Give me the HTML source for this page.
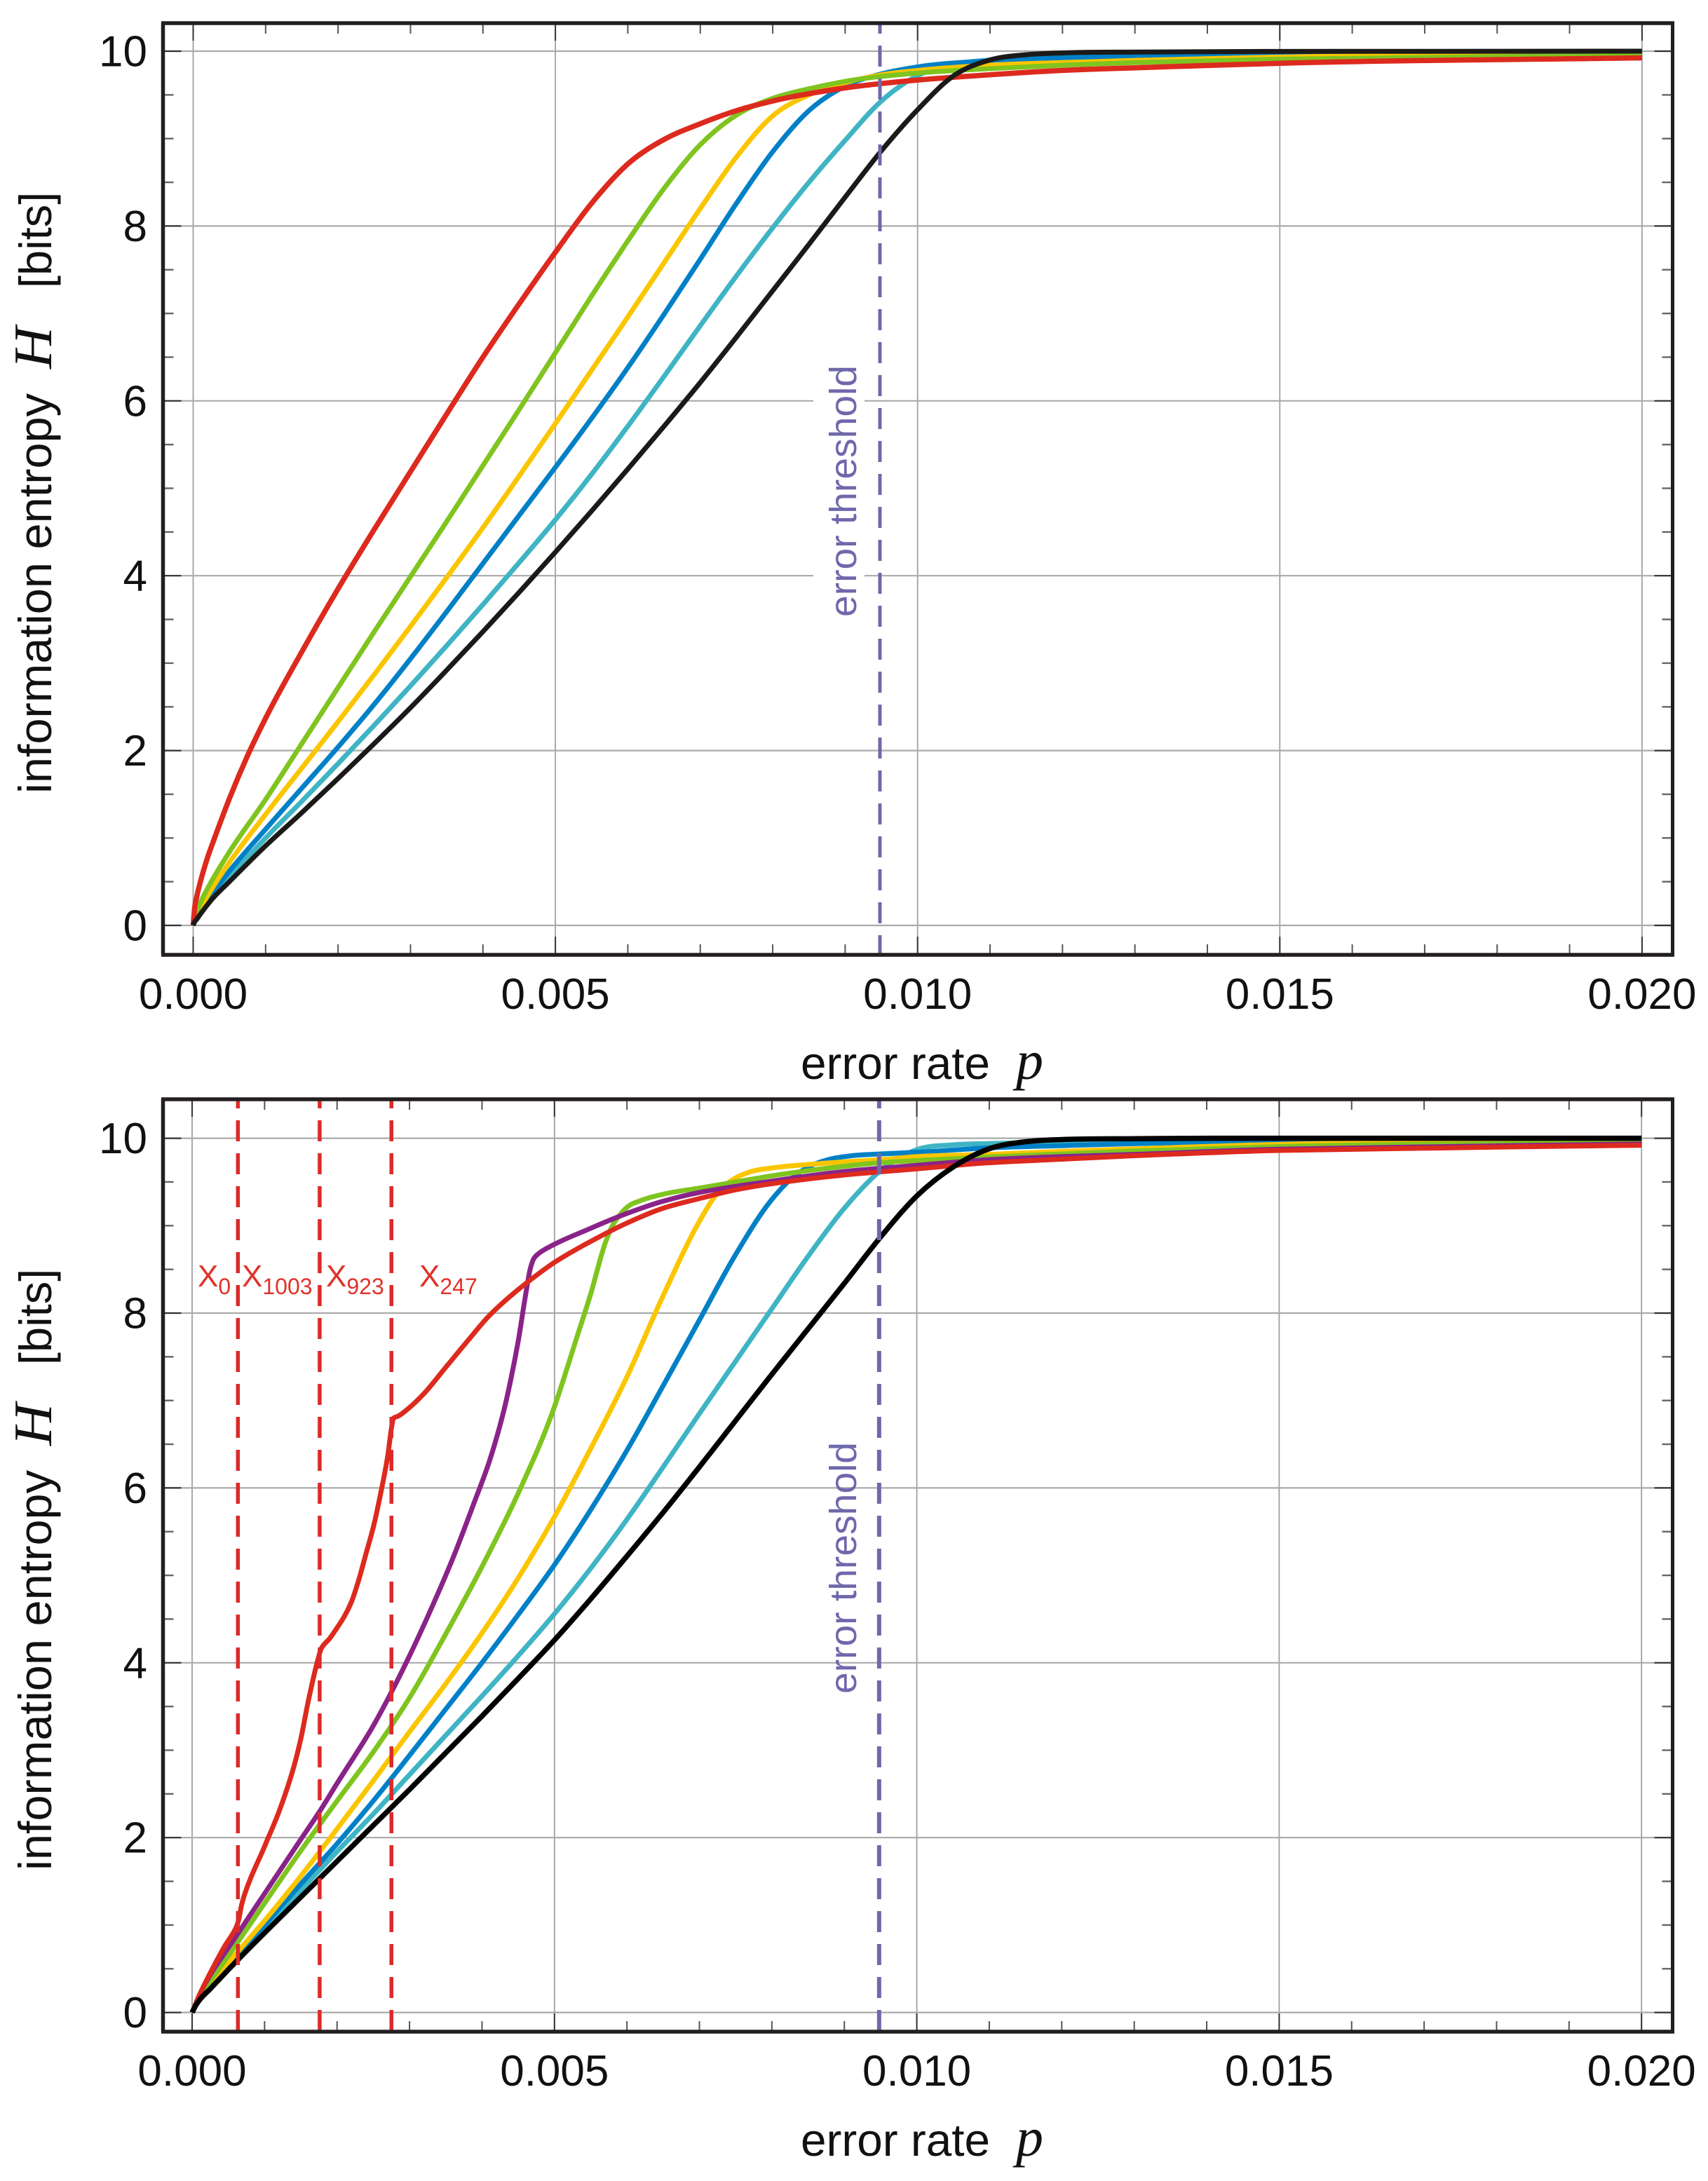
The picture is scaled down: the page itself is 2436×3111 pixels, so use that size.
<!DOCTYPE html>
<html lang="en">
<head>
<meta charset="utf-8">
<title>Information entropy vs error rate</title>
<style>
html,body{margin:0;padding:0;background:#fff;width:2436px;height:3111px;overflow:hidden}
svg{display:block}
text{font-family:"Liberation Sans",sans-serif}
.it{font-family:"Liberation Serif",serif;font-style:italic}
</style>
</head>
<body>
<svg id="chart" xmlns="http://www.w3.org/2000/svg" width="2436" height="3111" viewBox="0 0 2436 3111">
  <rect x="0" y="0" width="2436" height="3111" fill="#fff"/>
  <g id="top-layer"></g>
  <g id="bottom-layer"></g>
  <g fill="#111">
    <text x="1142" y="1539" font-size="65" textLength="270" lengthAdjust="spacingAndGlyphs">error rate</text>
    <text class="it" x="1449" y="1539" font-size="78">p</text>
    <text transform="translate(73 1132) rotate(-90)" font-size="66" textLength="571" lengthAdjust="spacingAndGlyphs">information entropy</text>
    <text class="it" transform="translate(73 526) rotate(-90)" font-size="77" textLength="60" lengthAdjust="spacingAndGlyphs">H</text>
    <text transform="translate(73 411) rotate(-90)" font-size="65">[bits]</text>
  </g>
  <g fill="#111">
    <text x="1142" y="3075" font-size="65" textLength="270" lengthAdjust="spacingAndGlyphs">error rate</text>
    <text class="it" x="1449" y="3075" font-size="78">p</text>
    <text transform="translate(73 2668) rotate(-90)" font-size="66" textLength="571" lengthAdjust="spacingAndGlyphs">information entropy</text>
    <text class="it" transform="translate(73 2062) rotate(-90)" font-size="77" textLength="60" lengthAdjust="spacingAndGlyphs">H</text>
    <text transform="translate(73 1947) rotate(-90)" font-size="65">[bits]</text>
  </g>
  <g fill="#e03228">
    <text x="282" y="1835" font-size="44">X<tspan font-size="32" dy="11">0</tspan></text>
    <text x="345" y="1835" font-size="44">X<tspan font-size="32" dy="11">1003</tspan></text>
    <text x="465" y="1835" font-size="44">X<tspan font-size="32" dy="11">923</tspan></text>
    <text x="598" y="1835" font-size="44">X<tspan font-size="32" dy="11">247</tspan></text>
  </g>
</svg>
<script>
/* ---------- axis ticks ---------- */
const xMajorTicks = [0, 0.005, 0.01, 0.015, 0.02];
const xMajorLabels = ['0.000', '0.005', '0.010', '0.015', '0.020'];
const xMinorTicks = [0.001, 0.002, 0.003, 0.004, 0.006, 0.007, 0.008, 0.009, 0.011, 0.012, 0.013, 0.014, 0.016, 0.017, 0.018, 0.019];
const yMajorTicks = [0, 2, 4, 6, 8, 10];
const yMajorLabels = ['0', '2', '4', '6', '8', '10'];
const yMinorTicks = [0.5, 1, 1.5, 2.5, 3, 3.5, 4.5, 5, 5.5, 6.5, 7, 7.5, 8.5, 9, 9.5];
const thresholdRate = [0.00948];
const mutantRates = [0.000632, 0.00176, 0.00275];

/* ---------- top panel series ---------- */
const topRedP = [0,.00002,.00005,.0001,.0002,.0003,.0005,.00075,.001,.0015,.002,.0025,.003,.0035,.004,.0045,.005,.0055,.006,.0065,.007,.0075,.008,.009,.01,.011,.012,.013,.015,.02];
const topRedH = [0,.2,.33,.5,.78,1.01,1.45,1.94,2.37,3.13,3.85,4.53,5.19,5.85,6.5,7.11,7.7,8.26,8.71,8.99,9.17,9.32,9.43,9.58,9.67,9.73,9.78,9.81,9.862,9.924];
const topGreenP = [0,.00002,.00005,.0001,.00025,.0005,.001,.0015,.002,.0025,.003,.0035,.004,.0045,.005,.0055,.006,.0065,.007,.0075,.008,.0085,.009,.01,.011,.012,.013,.015,.02];
const topGreenH = [0,.09,.16,.26,.5,.84,1.44,2.08,2.72,3.36,3.99,4.62,5.26,5.9,6.55,7.2,7.83,8.43,8.93,9.27,9.46,9.57,9.655,9.75,9.8,9.84,9.87,9.908,9.954];
const topYellowP = [0,.00002,.00005,.0001,.00025,.0005,.001,.0015,.002,.0025,.003,.0035,.004,.0045,.005,.0055,.006,.0065,.007,.0075,.008,.0085,.009,.0095,.01,.011,.012,.013,.015,.02];
const topYellowH = [0,.065,.12,.2,.41,.72,1.27,1.8,2.33,2.87,3.42,3.98,4.55,5.14,5.74,6.35,6.96,7.58,8.2,8.79,9.26,9.5,9.64,9.73,9.78,9.84,9.87,9.895,9.933,9.96];
const topBlueP = [0,.00002,.00005,.0001,.00025,.0005,.001,.0015,.002,.0025,.003,.0035,.004,.0045,.005,.0055,.006,.0065,.007,.0075,.008,.0085,.009,.0095,.01,.011,.012,.013,.015,.02];
const topBlueH = [0,.055,.1,.17,.35,.62,1.1,1.57,2.04,2.53,3.05,3.59,4.14,4.69,5.24,5.8,6.38,6.99,7.62,8.26,8.85,9.32,9.6,9.74,9.82,9.89,9.925,9.94,9.96,9.975];
const topTealP = [0,.00002,.00005,.0001,.00025,.0005,.001,.0015,.002,.0025,.003,.0035,.004,.0045,.005,.0055,.006,.0065,.007,.0075,.008,.0085,.009,.0095,.01,.0105,.011,.012,.013,.015,.02];
const topTealH = [0,.05,.09,.15,.31,.55,1,1.42,1.85,2.29,2.74,3.2,3.67,4.15,4.64,5.16,5.71,6.28,6.86,7.43,7.98,8.5,8.98,9.43,9.72,9.85,9.9,9.94,9.955,9.97,9.985];
const topBlackP = [0,.00002,.00005,.0001,.00025,.0005,.001,.0015,.002,.0025,.003,.0035,.004,.0045,.005,.0055,.006,.0065,.007,.0075,.008,.0085,.009,.0095,.01,.0105,.011,.0115,.012,.013,.015,.02];
const topBlackH = [0,.04,.07,.13,.29,.5,.91,1.29,1.68,2.08,2.49,2.92,3.36,3.81,4.27,4.74,5.22,5.71,6.21,6.73,7.26,7.79,8.33,8.86,9.33,9.72,9.9,9.96,9.98,9.99,9.997,10];

/* ---------- bottom panel series ---------- */
const botTealP = [0,.00005,.0001,.00025,.0005,.001,.0015,.002,.0025,.003,.0035,.004,.0045,.005,.0055,.006,.0065,.007,.0075,.008,.0085,.009,.0095,.01,.0105,.011,.012,.013,.015,.02];
const botTealH = [0,.08,.14,.28,.51,.95,1.4,1.84,2.27,2.72,3.17,3.62,4.08,4.56,5.08,5.64,6.24,6.85,7.45,8.05,8.65,9.2,9.63,9.87,9.925,9.94,9.96,9.975,9.98,9.985];
const botBlueP = [0,.00005,.0001,.00025,.0005,.001,.0015,.002,.0025,.003,.0035,.004,.0045,.005,.0055,.006,.0065,.007,.0075,.008,.0083,.0085,.0088,.0091,.0095,.01,.011,.012,.013,.015,.02];
const botBlueH = [0,.09,.16,.3,.54,1,1.47,1.93,2.42,2.94,3.47,4,4.55,5.12,5.75,6.43,7.17,7.92,8.67,9.3,9.56,9.67,9.76,9.8,9.82,9.84,9.89,9.915,9.938,9.96,9.975];
const botYellowP = [0,.00005,.0001,.00025,.0005,.001,.0015,.002,.0025,.003,.0035,.004,.0045,.005,.0055,.006,.0065,.007,.0072,.0074,.0077,.008,.0085,.009,.0095,.01,.011,.012,.013,.015,.02];
const botYellowH = [0,.09,.17,.32,.57,1.05,1.56,2.1,2.65,3.21,3.76,4.34,4.97,5.67,6.45,7.27,8.2,9.05,9.32,9.49,9.615,9.66,9.7,9.73,9.755,9.79,9.815,9.85,9.878,9.93,9.96];
const botGreenP = [0,.00005,.0001,.00025,.0005,.001,.0015,.002,.0025,.003,.0035,.004,.0045,.005,.0053,.0055,.0057,.0058,.0059,.006,.0062,.0065,.007,.0075,.008,.009,.0095,.01,.011,.012,.013,.015,.02];
const botGreenH = [0,.1,.19,.36,.65,1.25,1.85,2.42,2.98,3.6,4.33,5.1,5.94,6.93,7.7,8.22,8.8,9,9.12,9.21,9.29,9.36,9.43,9.5,9.57,9.68,9.72,9.745,9.785,9.82,9.853,9.905,9.95];
const botPurpleP = [0,.00005,.0001,.00025,.0005,.00063,.001,.0015,.00176,.002,.0025,.00276,.003,.0033,.0036,.0039,.0041,.0043,.0044,.0045,.0046,.00467,.00472,.00478,.00487,.0055,.006,.0065,.007,.008,.009,.01,.011,.012,.013,.015,.02];
const botPurpleH = [0,.1,.2,.43,.74,.9,1.36,1.98,2.3,2.62,3.28,3.68,4.08,4.62,5.2,5.85,6.3,6.88,7.25,7.68,8.2,8.52,8.63,8.68,8.73,8.97,9.14,9.28,9.38,9.51,9.62,9.69,9.755,9.79,9.815,9.875,9.935];
const botRedP = [0,.00005,.00014,.00028,.00045,.0006,.00064,.00068,.00072,.001,.0012,.0014,.0015,.0016,.0017,.00175,.00178,.0019,.002,.0021,.0022,.0023,.0024,.0025,.0026,.0027,.00275,.00278,.00284,.003,.0032,.0035,.0038,.0041,.0044,.0047,.005,.0055,.006,.0065,.007,.0075,.008,.009,.01,.011,.012,.013,.015,.02];
const botRedH = [0,.1,.27,.5,.76,.96,1.05,1.22,1.34,1.9,2.3,2.8,3.13,3.55,3.92,4.08,4.16,4.28,4.4,4.53,4.7,4.95,5.25,5.55,5.93,6.37,6.68,6.8,6.82,6.92,7.08,7.38,7.68,7.97,8.2,8.4,8.58,8.82,9.03,9.2,9.31,9.41,9.48,9.58,9.65,9.72,9.76,9.8,9.86,9.92];
const botBlackP = [0,.00005,.0001,.00025,.0005,.001,.0015,.002,.0025,.003,.0035,.004,.0045,.005,.0055,.006,.0065,.007,.0075,.008,.0085,.009,.0095,.01,.0105,.011,.0115,.012,.013,.015,.02];
const botBlackH = [0,.08,.14,.27,.49,.91,1.32,1.73,2.14,2.55,2.97,3.39,3.82,4.26,4.73,5.22,5.72,6.24,6.77,7.3,7.82,8.34,8.87,9.34,9.67,9.88,9.96,9.985,9.995,10,10];

const NS = 'http://www.w3.org/2000/svg';

function make(tag, parent, attrs) {
  const el = document.createElementNS(NS, tag);
  for (const k in attrs) el.setAttribute(k, attrs[k]);
  parent.appendChild(el);
  return el;
}

/* cubic path through the data, mapped by the axis functions.
   sharp=true keeps kinks (harmonic tangents), otherwise smooth 3-point tangents. */
function curvePath(ps, hs, sx, sy, sharp) {
  const X = ps.map(sx), Y = hs.map(sy), n = X.length;
  const d = [], m = [];
  for (let i = 0; i < n - 1; i++) d.push((Y[i + 1] - Y[i]) / (X[i + 1] - X[i]));
  m[0] = d[0];
  m[n - 1] = d[n - 2];
  for (let i = 1; i < n - 1; i++) {
    const h0 = X[i] - X[i - 1], h1 = X[i + 1] - X[i];
    if (d[i - 1] * d[i] <= 0) { m[i] = 0; continue; }
    if (sharp) {
      const w1 = 2 * h1 + h0, w2 = h1 + 2 * h0;
      m[i] = (w1 + w2) / (w1 / d[i - 1] + w2 / d[i]);
    } else {
      const t = (h1 * d[i - 1] + h0 * d[i]) / (h0 + h1);
      const lim = 3 * Math.min(Math.abs(d[i - 1]), Math.abs(d[i]));
      m[i] = Math.sign(t) * Math.min(Math.abs(t), lim);
    }
  }
  let path = 'M' + X[0].toFixed(2) + ' ' + Y[0].toFixed(2);
  for (let i = 0; i < n - 1; i++) {
    const h = (X[i + 1] - X[i]) / 3;
    path += 'C' + (X[i] + h).toFixed(2) + ' ' + (Y[i] + m[i] * h).toFixed(2) + ' ' +
      (X[i + 1] - h).toFixed(2) + ' ' + (Y[i + 1] - m[i + 1] * h).toFixed(2) + ' ' +
      X[i + 1].toFixed(2) + ' ' + Y[i + 1].toFixed(2);
  }
  return path;
}

function drawPanel(cfg) {
  const g = document.getElementById(cfg.layer);
  const sx = p => cfg.x0 + cfg.xs * p;
  const sy = h => cfg.y0 - cfg.ys * h;
  const L = 232.5, R = 2385.5, T = cfg.top, B = cfg.bottom;

  /* grid */
  xMajorTicks.forEach(v => {
    const el = make('line', g, {x1: sx(v), x2: sx(v), y1: T, y2: B, stroke: '#a0a0a0', 'stroke-width': 1.8});
    
    
  });
  yMajorTicks.forEach(v => {
    const el = make('line', g, {x1: L, x2: R, y1: sy(v), y2: sy(v), stroke: '#aaaaaa', 'stroke-width': 2.2});
    
    
  });

  /* white patch behind threshold label, breaks the gridlines (top panel only) */
  if (cfg.patch) {
    const patch = make('rect', g, {x: 1160, y: 512, width: 73, height: 385, fill: '#fff'});
    
    
  }

  /* ticks */
  xMajorTicks.forEach(v => {
    const a = make('line', g, {x1: sx(v), x2: sx(v), y1: B, y2: B - 26, stroke: '#333', 'stroke-width': 2});
    
    
    const b = make('line', g, {x1: sx(v), x2: sx(v), y1: T, y2: T + 25, stroke: '#333', 'stroke-width': 2});
    
    
  });
  xMinorTicks.forEach(v => {
    const a = make('line', g, {x1: sx(v), x2: sx(v), y1: B, y2: B - 15, stroke: '#555', 'stroke-width': 2});
    
    
    const b = make('line', g, {x1: sx(v), x2: sx(v), y1: T, y2: T + 15, stroke: '#555', 'stroke-width': 2});
    
    
  });
  yMajorTicks.forEach(v => {
    const a = make('line', g, {x1: L, x2: L + 26, y1: sy(v), y2: sy(v), stroke: '#333', 'stroke-width': 2.2});
    
    
    const b = make('line', g, {x1: R, x2: R - 26, y1: sy(v), y2: sy(v), stroke: '#333', 'stroke-width': 2.2});
    
    
  });
  yMinorTicks.forEach(v => {
    const a = make('line', g, {x1: L, x2: L + 15, y1: sy(v), y2: sy(v), stroke: '#666', 'stroke-width': 2.4});
    
    
    const b = make('line', g, {x1: R, x2: R - 15, y1: sy(v), y2: sy(v), stroke: '#666', 'stroke-width': 2.4});
    
    
  });

  /* series */
  cfg.series.forEach(s => {
    const el = make('path', g, {
      d: curvePath(s.p, s.h, sx, sy, s.sharp), fill: 'none', stroke: s.color,
      'stroke-width': s.width, 'stroke-linejoin': 'round', 'stroke-linecap': 'butt'
    });
    
    
  });

  /* vertical reference lines */
  cfg.redLines.forEach(v => {
    const el = make('line', g, {
      x1: sx(v), x2: sx(v), y1: T, y2: B, stroke: '#dc2a2a', 'stroke-width': 5.5,
      'stroke-dasharray': '30 17', 'stroke-dashoffset': cfg.dashOffset
    });
    
    
  });
  thresholdRate.forEach(v => {
    const el = make('line', g, {
      x1: sx(v), x2: sx(v), y1: T, y2: B, stroke: '#6f68ab', 'stroke-width': cfg.thrWidth,
      'stroke-dasharray': '30 17', 'stroke-dashoffset': cfg.dashOffset
    });
    
    
  });

  /* threshold label */
  const lab = make('text', g, {
    transform: 'translate(1221 ' + (880 + cfg.labelDy) + ') rotate(-90)',
    'font-size': 54, fill: '#6f68ab', textLength: 359, lengthAdjust: 'spacingAndGlyphs'
  });
  lab.textContent = 'error threshold';
  
  

  /* frame */
  const f1 = make('line', g, {x1: L - 2.5, x2: R + 2.5, y1: T, y2: T, stroke: '#231f20', 'stroke-width': 5.5});
  
  
  const f2 = make('line', g, {x1: L - 2.5, x2: R + 2.5, y1: B, y2: B, stroke: '#231f20', 'stroke-width': 5.5});
  
  
  const f3 = make('line', g, {x1: L, x2: L, y1: T, y2: B, stroke: '#231f20', 'stroke-width': 5.5});
  
  
  const f4 = make('line', g, {x1: R, x2: R, y1: T, y2: B, stroke: '#231f20', 'stroke-width': 5});
  
  

  /* tick labels */
  xMajorTicks.forEach((v, i) => {
    const t = make('text', g, {x: sx(v), y: B + 77, 'font-size': 62, 'text-anchor': 'middle', fill: '#111'});
    t.textContent = xMajorLabels[i];
    
    
  });
  yMajorTicks.forEach((v, i) => {
    const t = make('text', g, {x: 210, y: sy(v) + 21.5, 'font-size': 62, 'text-anchor': 'end', fill: '#111'});
    t.textContent = yMajorLabels[i];
    
    
  });
}

const RED = '#dd2a1e', GREEN = '#7fc41f', YELLOW = '#fbc500', BLUE = '#0080c6', TEAL = '#3fb4c4', PURPLE = '#8a2388';

drawPanel({
  layer: 'top-layer', prefix: 'top', x0: 275.5, xs: 103320, y0: 1320, ys: 124.7,
  top: 33, bottom: 1362, dashOffset: 15, thrWidth: 5, labelDy: 0, patch: true, redLines: [],
  series: [
    {name: 'teal', p: topTealP, h: topTealH, color: TEAL, width: 7},
    {name: 'blue', p: topBlueP, h: topBlueH, color: BLUE, width: 7},
    {name: 'yellow', p: topYellowP, h: topYellowH, color: YELLOW, width: 7},
    {name: 'green', p: topGreenP, h: topGreenH, color: GREEN, width: 7},
    {name: 'red', p: topRedP, h: topRedH, color: RED, width: 7.5},
    {name: 'black', p: topBlackP, h: topBlackH, color: '#1c1a19', width: 7}
  ]
});

drawPanel({
  layer: 'bottom-layer', prefix: 'bottom', x0: 274, xs: 103360, y0: 2870.6, ys: 124.7,
  top: 1568, bottom: 2898, dashOffset: 17, thrWidth: 6, labelDy: 1536, patch: false, redLines: mutantRates,
  series: [
    {name: 'teal', p: botTealP, h: botTealH, color: TEAL, width: 7},
    {name: 'blue', p: botBlueP, h: botBlueH, color: BLUE, width: 7},
    {name: 'yellow', p: botYellowP, h: botYellowH, color: YELLOW, width: 7},
    {name: 'green', p: botGreenP, h: botGreenH, color: GREEN, width: 7},
    {name: 'purple', p: botPurpleP, h: botPurpleH, color: PURPLE, width: 7, sharp: true},
    {name: 'red', p: botRedP, h: botRedH, color: RED, width: 7, sharp: true},
    {name: 'black', p: botBlackP, h: botBlackH, color: '#000', width: 7.5}
  ]
});
</script>
</body>
</html>
